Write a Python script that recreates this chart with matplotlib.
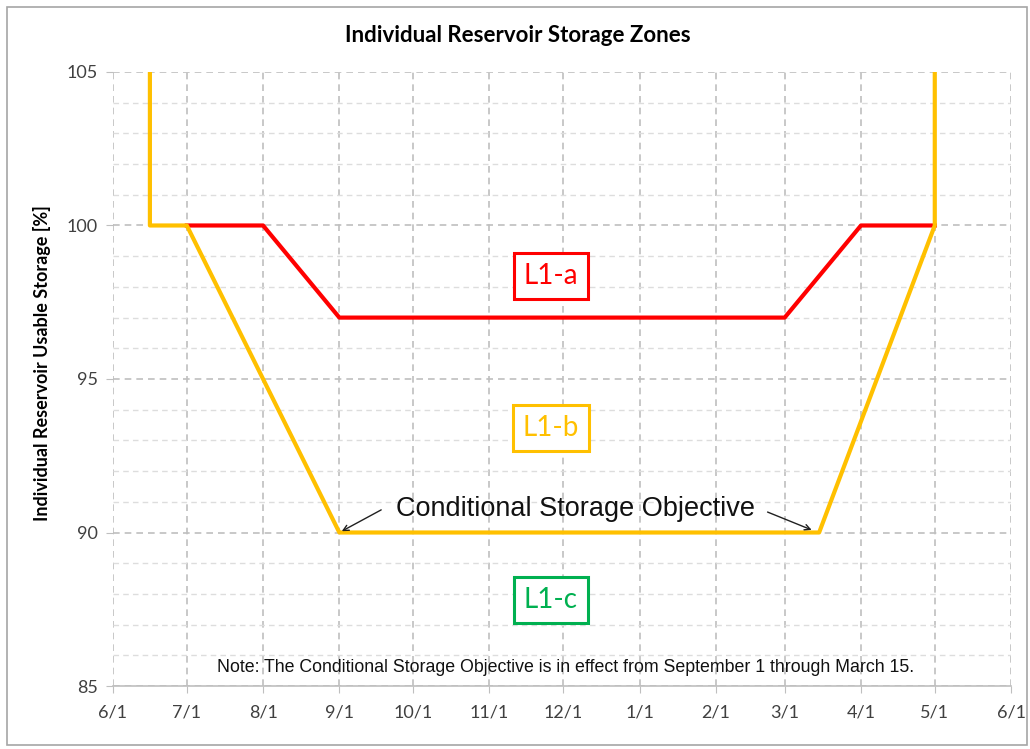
import datetime as dt
import matplotlib
matplotlib.use("Agg")
import matplotlib.pyplot as plt
import matplotlib.dates as mdates

# 데이터 -------------------------------------------------------------
month_ticks = ['2010-06-01', '2010-07-01', '2010-08-01', '2010-09-01', '2010-10-01',
               '2010-11-01', '2010-12-01', '2011-01-01', '2011-02-01', '2011-03-01',
               '2011-04-01', '2011-05-01', '2011-06-01']
month_labels = ['6/1', '7/1', '8/1', '9/1', '10/1', '11/1', '12/1',
                '1/1', '2/1', '3/1', '4/1', '5/1', '6/1']

# L1-a 상한선 (빨강)
red_dates = ['2010-07-01', '2010-08-01', '2010-09-01', '2011-03-01', '2011-04-01', '2011-05-01']
red_vals = [100, 100, 97, 97, 100, 100]

# L1-b 하한선 (주황)
orange_dates = ['2010-06-16', '2010-06-16', '2010-07-01', '2010-09-01', '2011-03-15',
                '2011-05-01', '2011-05-01']
orange_vals = [105, 100, 100, 90, 90, 100, 105]

to_d = lambda lst: [dt.datetime.strptime(s, '%Y-%m-%d') for s in lst]

fig = plt.figure(figsize=(10.3, 7.49), dpi=100)
ax = fig.add_axes([0.1097, 0.0841, 0.8719, 0.8198])

ax.plot(to_d(red_dates), red_vals, color='#FF0000', lw=3, zorder=3)
ax.plot(to_d(orange_dates), orange_vals, color='#FFC000', lw=3, zorder=3)

ax.set_xlim(to_d(month_ticks)[0], to_d(month_ticks)[-1])
ax.set_ylim(85, 105)
ax.set_xticks(to_d(month_ticks))
ax.set_xticklabels(month_labels)
ax.set_yticks([85, 90, 95, 100, 105])
ax.set_yticks(range(85, 106), minor=True)

# 격자
ax.grid(which='major', color='#BFBFBF', ls=(0, (4, 3)), lw=1.2)
ax.grid(which='minor', axis='y', color='#DDDDDD', ls=(0, (4, 3)), lw=1.0)
for s in ['top', 'right', 'left']:
    ax.spines[s].set_visible(False)
ax.spines['bottom'].set_color('#BFBFBF')
ax.spines['bottom'].set_linewidth(1.2)
ax.tick_params(axis='x', which='major', length=5, color='#BFBFBF', labelsize=13,
               labelcolor='#404040', pad=8)
ax.tick_params(axis='y', which='major', length=5, color='#BFBFBF', labelsize=13,
               labelcolor='#404040', pad=6)
ax.tick_params(axis='y', which='minor', length=0)
for t in ax.get_xticklabels() + ax.get_yticklabels():
    t.set_family('Lato')

fig.text(0.503, 0.953, 'Individual Reservoir Storage Zones', ha='center', va='center',
         fontsize=16, fontweight='bold', family='Lato')
fig.text(0.041, 0.515, 'Individual Reservoir Usable Storage [%]', ha='center', va='center',
         rotation=90, fontsize=13, fontweight='bold', family='Lato')

# 영역 라벨
xmid = dt.datetime(2010, 11, 26)
for txt, y, c in [('L1-a', 98.35, '#FF0000'), ('L1-b', 93.4, '#FFC000'), ('L1-c', 87.8, '#00B050')]:
    ax.text(xmid, y, txt, color=c, fontsize=20, family='Lato', ha='center', va='center',
            zorder=5, bbox=dict(boxstyle='square,pad=0.35', fc='white', ec=c, lw=2.2))

# 주석
ann_x = dt.datetime(2010, 12, 6)
ax.annotate('', xy=(dt.datetime(2010, 9, 1), 90), xytext=(dt.datetime(2010, 9, 19), 90.78),
            arrowprops=dict(arrowstyle='->', color='#202020', lw=1))
ax.annotate('', xy=(dt.datetime(2011, 3, 13), 90.05), xytext=(dt.datetime(2011, 2, 21), 90.7),
            arrowprops=dict(arrowstyle='->', color='#202020', lw=1))
ax.text(ann_x, 90.75, 'Conditional Storage Objective', ha='center', va='center',
        fontsize=19.5, family='Liberation Sans', color='#111111')
ax.text(dt.datetime(2010, 12, 2), 85.6,
        'Note: The Conditional Storage Objective is in effect from September 1 through March 15.',
        ha='center', va='center', fontsize=12.8, family='Liberation Sans', color='#111111')

# 외곽 테두리
fig.patches.append(plt.Rectangle((0.007, 0.006), 0.99, 0.985, transform=fig.transFigure,
                                 fill=False, ec='#A6A6A6', lw=1.2))

fig.savefig('out.png', dpi=100)
